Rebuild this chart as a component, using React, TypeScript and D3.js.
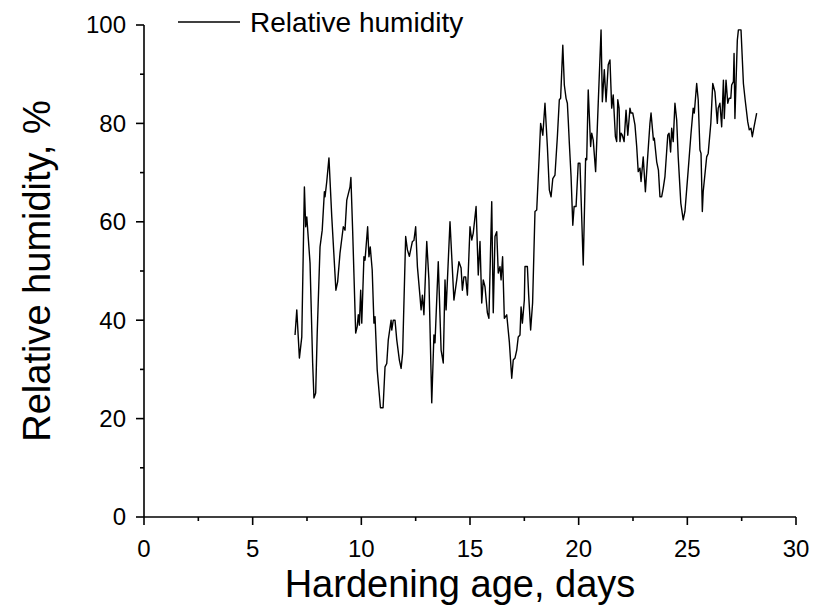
import React from "react";
import * as d3 from "d3";

const days = [
  6.95, 7.03, 7.15, 7.26, 7.38, 7.44, 7.49, 7.64, 7.76, 7.82, 7.9, 7.97, 8.1, 8.2, 8.3, 8.33, 8.41, 8.51, 8.64, 8.83,
  8.91, 9.02, 9.17, 9.25, 9.33, 9.48, 9.52, 9.6, 9.74, 9.81, 9.86, 9.91, 9.97, 10.02, 10.12, 10.17, 10.29, 10.35, 10.41, 10.5,
  10.58, 10.63, 10.73, 10.88, 11.0, 11.09, 11.17, 11.24, 11.37, 11.4, 11.47, 11.55, 11.63, 11.75, 11.83, 11.9, 12.04, 12.12, 12.21, 12.27,
  12.35, 12.42, 12.5, 12.58, 12.7, 12.75, 12.81, 12.88, 13.01, 13.11, 13.24, 13.34, 13.39, 13.54, 13.67, 13.77, 13.85, 13.9, 14.08, 14.26,
  14.39, 14.49, 14.59, 14.65, 14.72, 14.8, 14.88, 15.0, 15.08, 15.15, 15.28, 15.38, 15.46, 15.54, 15.61, 15.69, 15.8, 15.87, 16.0, 16.07,
  16.15, 16.23, 16.3, 16.38, 16.43, 16.5, 16.58, 16.69, 16.81, 16.92, 16.99, 17.07, 17.15, 17.22, 17.3, 17.35, 17.41, 17.5, 17.53, 17.64,
  17.7, 17.79, 17.88, 17.99, 18.07, 18.19, 18.25, 18.35, 18.45, 18.56, 18.65, 18.73, 18.81, 18.91, 19.02, 19.11, 19.17, 19.27, 19.34, 19.42,
  19.48, 19.52, 19.57, 19.65, 19.73, 19.79, 19.88, 19.98, 20.06, 20.21, 20.32, 20.37, 20.44, 20.55, 20.6, 20.67, 20.78, 20.9, 21.03, 21.09,
  21.18, 21.26, 21.36, 21.44, 21.52, 21.59, 21.69, 21.75, 21.8, 21.86, 21.9, 21.95, 22.01, 22.09, 22.18, 22.26, 22.36, 22.41, 22.49, 22.59,
  22.67, 22.74, 22.82, 22.87, 22.97, 23.07, 23.16, 23.28, 23.33, 23.44, 23.48, 23.59, 23.67, 23.74, 23.82, 23.89, 23.97, 24.1, 24.16, 24.23,
  24.28, 24.35, 24.43, 24.51, 24.58, 24.7, 24.81, 24.89, 25.04, 25.17, 25.27, 25.32, 25.43, 25.5, 25.58, 25.63, 25.69, 25.73, 25.89, 25.96,
  26.08, 26.17, 26.27, 26.38, 26.42, 26.5, 26.58, 26.66, 26.7, 26.78, 26.86, 26.92, 27.0, 27.04, 27.12, 27.15, 27.19, 27.3, 27.35, 27.47,
  27.58, 27.66, 27.78, 27.85, 27.93, 27.99, 28.07, 28.19,
];

const humidity = [
  37.0, 42.1, 32.3, 36.6, 67.1, 59.0, 61.0, 51.6, 31.3, 24.2, 25.2, 37.4, 54.9, 58.3, 66.1, 65.1, 68.2, 73.0, 61.0, 46.1,
  47.8, 53.7, 59.0, 58.3, 64.4, 67.1, 69.0, 58.3, 37.4, 38.7, 41.1, 39.0, 46.1, 39.4, 52.9, 52.2, 59.0, 52.9, 54.9, 50.2,
  39.4, 40.7, 29.9, 22.2, 22.2, 30.5, 31.2, 36.0, 40.0, 38.0, 40.0, 40.0, 36.0, 31.9, 30.2, 33.3, 57.0, 54.3, 53.0, 54.3,
  56.0, 56.2, 59.0, 50.9, 44.8, 42.1, 45.1, 41.1, 56.0, 48.2, 23.2, 37.0, 35.4, 51.9, 33.9, 31.3, 48.2, 42.1, 60.0, 44.1,
  48.2, 51.9, 50.6, 46.1, 48.8, 48.8, 45.1, 59.0, 56.3, 57.7, 63.1, 49.2, 56.0, 43.5, 48.2, 46.8, 41.5, 40.4, 64.1, 41.5,
  57.0, 58.0, 49.6, 50.9, 48.2, 52.9, 40.4, 41.1, 35.6, 28.2, 31.9, 32.3, 33.9, 36.6, 37.0, 42.7, 39.4, 44.1, 50.9, 50.9,
  45.1, 38.0, 43.5, 62.1, 62.4, 73.9, 80.0, 77.6, 84.1, 75.3, 66.5, 65.1, 68.8, 69.5, 77.3, 84.8, 85.1, 95.9, 87.8, 85.1,
  84.1, 80.7, 76.0, 69.2, 59.3, 63.1, 63.1, 71.9, 71.9, 51.2, 72.9, 72.6, 86.8, 75.3, 78.0, 76.6, 70.2, 84.1, 99.0, 84.4,
  90.9, 84.4, 91.9, 92.9, 83.1, 85.8, 77.3, 76.3, 84.8, 83.1, 76.3, 78.0, 77.6, 76.3, 82.7, 77.6, 83.1, 82.1, 82.1, 79.7,
  75.3, 70.2, 70.9, 68.2, 73.2, 66.1, 72.2, 80.0, 82.1, 76.6, 77.0, 72.2, 70.5, 65.1, 65.1, 66.8, 69.2, 77.6, 78.0, 74.2,
  79.0, 76.3, 84.1, 80.7, 73.2, 63.8, 60.4, 62.1, 70.5, 78.0, 83.1, 82.1, 88.1, 84.8, 74.6, 73.9, 62.1, 66.1, 73.2, 73.9,
  80.0, 88.1, 86.4, 80.0, 83.1, 84.1, 79.3, 88.8, 81.0, 88.8, 84.1, 85.1, 85.1, 87.8, 88.5, 94.2, 81.0, 96.9, 99.0, 99.0,
  88.1, 84.8, 80.3, 78.7, 79.0, 77.3, 79.3, 82.1,
];

const xMajorTicks = [0, 5, 10, 15, 20, 25, 30];
const xMinorTicks = [2.5, 7.5, 12.5, 17.5, 22.5, 27.5];
const yMajorTicks = [0, 20, 40, 60, 80, 100];
const yMinorTicks = [10, 30, 50, 70, 90];
const seriesName = "Relative humidity";
const xTitle = "Hardening age, days";
const yTitle = "Relative humidity, %";

const FONT = "'Liberation Sans', Arial, sans-serif";

export default function App() {
  const W = 814;
  const H = 614;
  const x = d3.scaleLinear().domain([0, 30]).range([144, 796]);
  const y = d3.scaleLinear().domain([0, 100]).range([517, 25]);
  const pts: [number, number][] = days.map((d, i) => [d, humidity[i]]);
  const line = d3
    .line<[number, number]>()
    .x((d) => x(d[0]))
    .y((d) => y(d[1]));
  const path = line(pts) || "";
  const x0 = x(0);
  const y0 = y(0);

  return (
    <svg
      width={W}
      height={H}
      style={{ position: "absolute", left: 0, top: 0, background: "#fff" }}
      fontFamily={FONT}
    >
      <rect x={0} y={0} width={W} height={H} fill="#fff" />
      {/* axes lines */}
      <line x1={x0} y1={y(100)} x2={x0} y2={y0} stroke="#000" strokeWidth={1.6} />
      <line x1={x0} y1={y0} x2={x(30)} y2={y0} stroke="#000" strokeWidth={1.6} />
      {/* x ticks */}
      {xMajorTicks.map((t) => (
        <g key={"xm" + t}>
          <line x1={x(t)} x2={x(t)} y1={y0} y2={y0 + 8} stroke="#000" strokeWidth={1.6} />
          <text x={x(t)} y={y0 + 40} textAnchor="middle" fontSize={24} fill="#000">
            {t}
          </text>
        </g>
      ))}
      {xMinorTicks.map((t) => (
        <line key={"xn" + t} x1={x(t)} x2={x(t)} y1={y0} y2={y0 + 4} stroke="#000" strokeWidth={1.6} />
      ))}
      {/* y ticks */}
      {yMajorTicks.map((t) => (
        <g key={"ym" + t}>
          <line x1={x0 - 8} x2={x0} y1={y(t)} y2={y(t)} stroke="#000" strokeWidth={1.6} />
          <text x={x0 - 18} y={y(t)} dy="0.35em" textAnchor="end" fontSize={24} fill="#000">
            {t}
          </text>
        </g>
      ))}
      {yMinorTicks.map((t) => (
        <line key={"yn" + t} x1={x0 - 4} x2={x0} y1={y(t)} y2={y(t)} stroke="#000" strokeWidth={1.6} />
      ))}
      {/* data line */}
      <path d={path} fill="none" stroke="#000" strokeWidth={1.4} strokeLinejoin="round" />
      {/* legend */}
      <line x1={178} x2={240} y1={22} y2={22} stroke="#000" strokeWidth={1.4} />
      <text x={250} y={32} fontSize={28} fill="#000">
        {seriesName}
      </text>
      {/* axis titles */}
      <text x={460} y={597} textAnchor="middle" fontSize={38} fill="#000">
        {xTitle}
      </text>
      <text
        transform={`translate(50, ${(y(0) + y(100)) / 2}) rotate(-90)`}
        textAnchor="middle"
        fontSize={38}
        fill="#000"
      >
        {yTitle}
      </text>
    </svg>
  );
}
